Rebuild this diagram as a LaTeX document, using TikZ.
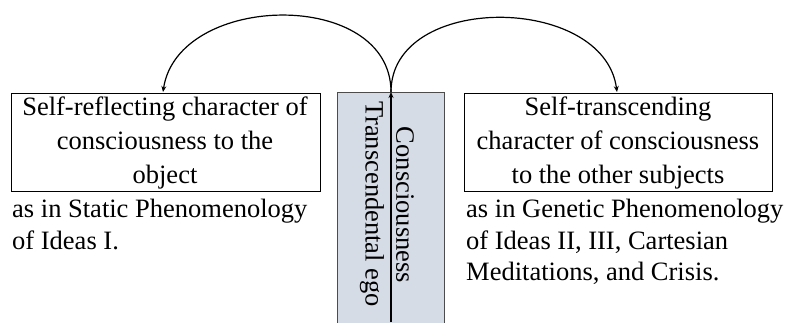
\documentclass[tikz,border=0pt]{standalone}
\usepackage{fontspec}
\setmainfont{Liberation Serif}
\usetikzlibrary{arrows.meta}
\definecolor{egofill}{HTML}{D6DCE5}
\begin{document}
\begin{tikzpicture}[x=1pt,y=-1pt,
  box/.style={draw=black,line width=0.9pt,inner sep=0pt},
  txt/.style={font=\fontsize{26.5}{34}\selectfont,align=center},
  vtxt/.style={font=\fontsize{26.5}{32}\selectfont,rotate=-90},
  note/.style={font=\fontsize{26.5}{31.5}\selectfont,align=left,anchor=north west,inner sep=0pt},
  arr/.style={line width=1.2pt,-{Stealth[length=6pt,width=5pt]}}]
\useasboundingbox (0,0) rectangle (785,322);
\node[box,fill=egofill,draw=black!70,minimum width=107pt,minimum height=240pt,anchor=north west] (ego) at (337,92) {};
\node[box,minimum width=309pt,minimum height=98pt,anchor=north west] (lbox) at (11,93) {};
\node[box,minimum width=308pt,minimum height=98pt,anchor=north west] (rbox) at (464,93) {};
\node[txt] (ltext) at (165,143) {Self-reflecting character of\\consciousness to the\\object};
\node[txt] (rtext) at (618,143) {Self-transcending\\character of consciousness\\to the other subjects};
\node[note] (lnote) at (12,199) {as in Static Phenomenology\\of Ideas I.};
\node[note] (rnote) at (466,199) {as in Genetic Phenomenology\\of Ideas II, III, Cartesian\\Meditations, and Crisis.};
\node[vtxt] (tego) at (372,204) {Transcendental ego};
\node[vtxt] (cons) at (405,205) {Consciousness};
\coordinate (top) at (391,92);
\coordinate (bot) at (391,322);
\coordinate (lend) at (163,92);
\coordinate (rend) at (617,92);
\draw[arr] (bot) -- (top);
\draw[arr] (top) .. controls (391,-12) and (178,-8) .. (lend);
\draw[arr] (top) .. controls (391,-8) and (604,-6) .. (rend);
\end{tikzpicture}
\end{document}
